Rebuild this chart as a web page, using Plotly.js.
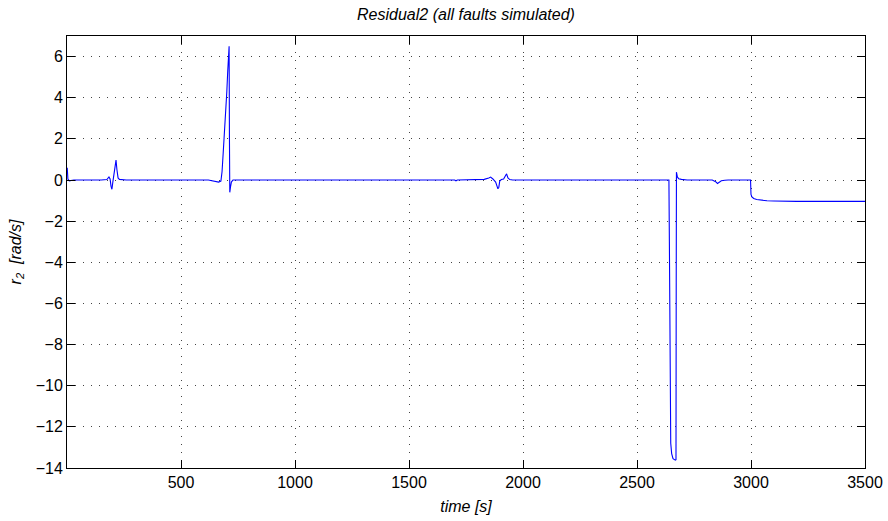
<!DOCTYPE html>
<html>
<head>
<meta charset="utf-8">
<script src="https://cdn.plot.ly/plotly-3.0.1.min.js"></script>
<style>
  html, body { margin: 0; padding: 0; background: #ffffff; }
  #chart { width: 888px; height: 521px; }
</style>
</head>
<body>
<div id="chart"></div>
<script>
// Residual r2 over the simulation run, with all faults injected.
// Time samples (s)
const timeS = [
  1, 4, 10, 30,
  150, 175, 184, 189, 193, 197, 201, 206, 211, 215, 219, 224, 230, 260,
  620, 645, 665, 675, 680, 685, 689, 693, 697, 701, 705, 709, 711, 712.5, 714, 717, 721, 728,
  1700, 1706, 1712,
  1800, 1830, 1850, 1858, 1868, 1880, 1890, 1894, 1898, 1905, 1915, 1922, 1928, 1934, 1942, 1955,
  2640, 2642, 2645, 2648, 2652, 2658, 2668, 2671, 2672, 2673, 2677, 2683, 2695, 2720,
  2830, 2845, 2853, 2860, 2870, 2885, 2900,
  2998, 3000, 3004, 3012, 3025, 3045, 3070, 3100, 3130, 3200, 3500
];

// Residual r2 (rad/s)
const residual2 = [
  0.6, 0.05, -0.04, 0.0,
  0.0, 0.02, 0.15, 0.05, -0.3, -0.45, -0.1, 0.3, 0.85, 0.97, 0.5, 0.1, 0.03, 0.0,
  0.0, -0.04, -0.1, -0.05, 0.4, 1.3, 2.0, 2.6, 3.2, 4.3, 5.3, 6.1, 6.5, 2.0, -0.6, -0.35, -0.1, 0.0,
  0.0, -0.04, 0.0,
  0.0, 0.03, 0.1, 0.14, 0.05, -0.1, -0.43, -0.35, -0.05, 0.02, 0.05, 0.2, 0.3, 0.1, 0.02, 0.0,
  0.0, -3.0, -10.0, -12.8, -13.3, -13.55, -13.62, -13.6, -5.0, 0.38, 0.15, 0.06, 0.03, 0.0,
  0.0, -0.08, -0.17, -0.1, -0.04, -0.01, 0.0,
  0.0, -0.7, -0.82, -0.9, -0.95, -0.99, -1.01, -1.02, -1.03, -1.04, -1.04
];

// Axis ticks
const xTicks = [500, 1000, 1500, 2000, 2500, 3000, 3500];
const yTicks = [-14, -12, -10, -8, -6, -4, -2, 0, 2, 4, 6];

const fontFamily = '"Liberation Sans", Arial, Helvetica, sans-serif';

const trace = {
  x: timeS,
  y: residual2,
  type: 'scatter',
  mode: 'lines',
  line: { color: '#0000ff', width: 1.1 },
  hoverinfo: 'x+y'
};

const axisCommon = {
  showline: true,
  linecolor: '#000000',
  linewidth: 1,
  mirror: 'ticks',
  ticks: 'inside',
  ticklen: 8,
  tickwidth: 1,
  tickcolor: '#000000',
  showgrid: true,
  gridcolor: '#444444',
  gridwidth: 1,
  griddash: '1px,7px',
  zeroline: false,
  tickfont: { family: fontFamily, size: 16, color: '#000000' }
};

const layout = {
  width: 888,
  height: 521,
  margin: { l: 67, r: 23, t: 36, b: 53 },
  paper_bgcolor: '#ffffff',
  plot_bgcolor: '#ffffff',
  showlegend: false,
  title: {
    text: 'Residual2 (all faults simulated)',
    font: { family: fontFamily, size: 16, style: 'italic', color: '#000000' },
    xref: 'paper',
    x: 0.5,
    xanchor: 'center',
    yref: 'container',
    y: 1 - 14 / 521,
    yanchor: 'middle'
  },
  xaxis: Object.assign({}, axisCommon, {
    range: [0, 3500],
    tickmode: 'array',
    tickvals: xTicks,
    title: {
      text: 'time [s]',
      font: { family: fontFamily, size: 16, style: 'italic', color: '#000000' },
      standoff: 10
    }
  }),
  yaxis: Object.assign({}, axisCommon, {
    range: [-14, 7],
    tickmode: 'array',
    tickvals: yTicks,
    title: {
      text: 'r<sub>2</sub>  [rad/s]',
      font: { family: fontFamily, size: 16, style: 'italic', color: '#000000' },
      standoff: 10
    }
  })
};

Plotly.newPlot('chart', [trace], layout, { displayModeBar: false, staticPlot: true });
</script>
</body>
</html>
